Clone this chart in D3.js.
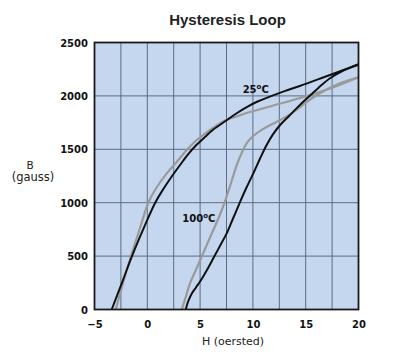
<!DOCTYPE html>
<html>
<head>
<meta charset="utf-8">
<script src="https://cdn.jsdelivr.net/npm/d3@7"></script>
<style>
  html, body { margin: 0; padding: 0; background: #ffffff; }
  svg { display: block; }
</style>
</head>
<body>
<svg id="chart" width="405" height="352"></svg>
<script>
// ---- data (H in oersted, B in gauss) ----
const hTicks = [-5, 0, 5, 10, 15, 20];
const bTicks = [0, 500, 1000, 1500, 2000, 2500];
const hGrid = [-2.5, 0, 2.5, 5, 7.5, 10, 12.5, 15, 17.5];
const bGrid = [500, 1000, 1500, 2000];

const loop25Descending = [[-3.37,0],[-2.4,250],[-1.45,500],[-0.35,760],[0.75,1000],[1.5,1125],[2.3,1243],[3.1,1353],[3.88,1455],[4.6,1535],[5.46,1615],[6.25,1685],[7.55,1774],[8.5,1840],[9.5,1900],[10.5,1950],[11.6,1993],[13,2045],[14.5,2095],[17.3,2196],[20,2292]];
const loop25Ascending = [[3.64,0],[3.85,70],[4.19,145],[4.61,206],[5.09,276],[5.65,370],[6.25,479],[6.88,595],[7.52,713],[8.12,852],[8.73,994],[9.35,1133],[10.04,1275],[10.68,1414],[11.3,1540],[11.9,1640],[12.6,1730],[13.4,1810],[14.2,1890],[15.1,1975],[16.2,2075],[17.3,2165],[18.6,2240],[20,2298]];
const loop100Descending = [[-2.99,0],[-2.3,248],[-1.54,501],[-0.72,754],[0.1,1000],[0.73,1119],[1.84,1275],[2.9,1395],[3.75,1495],[4.6,1580],[5.5,1650],[6.5,1718],[7.58,1778],[8.5,1810],[9.25,1835],[11.62,1901],[14.46,1980],[17.3,2069],[20,2175]];
const loop100Ascending = [[3.26,0],[3.65,120],[4.04,245],[4.6,370],[5.15,494],[5.7,620],[6.25,744],[6.85,880],[7.4,1025],[7.75,1130],[8.1,1240],[8.5,1360],[9.0,1480],[9.5,1570],[10.1,1630],[10.8,1680],[11.6,1725],[12.7,1780],[13.8,1845],[14.8,1920],[15.7,1985],[16.8,2050],[17.9,2105],[19,2145],[20,2175]];

const titleText = "Hysteresis Loop";
const xTitle = "H (oersted)";
const yTitle1 = "B";
const yTitle2 = "(gauss)";

// ---- layout ----
const svg = d3.select("#chart");
const x = d3.scaleLinear().domain([-5, 20]).range([94.5, 358.5]);
const y = d3.scaleLinear().domain([0, 2500]).range([309.5, 42.5]);

// background
svg.append("rect")
  .attr("x", x(-5)).attr("y", y(2500))
  .attr("width", x(20) - x(-5)).attr("height", y(0) - y(2500))
  .attr("fill", "#c5d7ee");

// grid
const grid = svg.append("g").attr("stroke", "#5b6b82").attr("stroke-width", 1);
grid.selectAll(".vg").data(hGrid).enter().append("line")
  .attr("x1", d => x(d)).attr("x2", d => x(d))
  .attr("y1", y(0)).attr("y2", y(2500));
grid.selectAll(".hg").data(bGrid).enter().append("line")
  .attr("y1", d => y(d)).attr("y2", d => y(d))
  .attr("x1", x(-5)).attr("x2", x(20));

// curves
const line = d3.line().x(d => x(d[0])).y(d => y(d[1])).curve(d3.curveCatmullRom.alpha(0.5));
svg.append("clipPath").attr("id", "clip").append("rect")
  .attr("x", x(-5)).attr("y", y(2500)).attr("width", x(20) - x(-5)).attr("height", y(0) - y(2500));
const curves = svg.append("g").attr("clip-path", "url(#clip)").attr("fill", "none")
  .attr("stroke-linejoin", "round").attr("stroke-linecap", "round");
[loop100Descending, loop100Ascending].forEach(s => {
  curves.append("path").attr("d", line(s)).attr("stroke", "#9a9a9a").attr("stroke-width", 2.2);
});
[loop25Descending, loop25Ascending].forEach(s => {
  curves.append("path").attr("d", line(s)).attr("stroke", "#111111").attr("stroke-width", 2);
});

// border
svg.append("rect")
  .attr("x", x(-5)).attr("y", y(2500))
  .attr("width", x(20) - x(-5)).attr("height", y(0) - y(2500))
  .attr("fill", "none").attr("stroke", "#1a1a1a").attr("stroke-width", 1.8);

// axes (labels only)
const font = "'DejaVu Sans', sans-serif";
const xAxis = d3.axisBottom(x).tickValues(hTicks).tickSize(0).tickPadding(0).tickFormat(d3.format("d"));
const gx = svg.append("g").attr("transform", `translate(0,${y(0)})`).call(xAxis);
gx.select(".domain").remove();
gx.selectAll("text").attr("y", 18.5).attr("dy", null)
  .attr("font-family", font).attr("font-size", 10).attr("font-weight", "bold").attr("fill", "#111");

const yAxis = d3.axisLeft(y).tickValues(bTicks).tickSize(0).tickPadding(0).tickFormat(d3.format("d"));
const gy = svg.append("g").attr("transform", `translate(${x(-5)},0)`).call(yAxis);
gy.select(".domain").remove();
gy.selectAll("text").attr("x", -6.5).attr("dy", "0.36em")
  .attr("font-family", font).attr("font-size", 10).attr("font-weight", "bold").attr("fill", "#111");

// titles
svg.append("text").attr("x", 227.5).attr("y", 25).attr("text-anchor", "middle")
  .attr("font-family", "'Liberation Sans', Arial, sans-serif").attr("font-size", 15).attr("font-weight", "bold")
  .attr("fill", "#222").text(titleText);
svg.append("text").attr("x", 233).attr("y", 344.7).attr("text-anchor", "middle")
  .attr("font-family", font).attr("font-size", 11).attr("fill", "#222").text(xTitle);
svg.append("text").attr("x", 30).attr("y", 169).attr("text-anchor", "middle")
  .attr("font-family", font).attr("font-size", 10.5).attr("fill", "#222").text(yTitle1);
svg.append("text").attr("x", 33).attr("y", 181).attr("text-anchor", "middle")
  .attr("font-family", font).attr("font-size", 11.5).attr("fill", "#222").text(yTitle2);

// curve labels with superscript o
function tempLabel(h, b, num) {
  const t = svg.append("text").attr("x", x(h)).attr("y", y(b))
    .attr("font-family", font).attr("font-size", 10).attr("font-weight", "bold").attr("fill", "#111");
  t.append("tspan").text(num);
  t.append("tspan").attr("font-size", 7).attr("dy", -4).text("o");
  t.append("tspan").attr("dy", 4).text("C");
}
tempLabel(9.03, 2024, "25");
tempLabel(3.31, 822, "100");
</script>
</body>
</html>
